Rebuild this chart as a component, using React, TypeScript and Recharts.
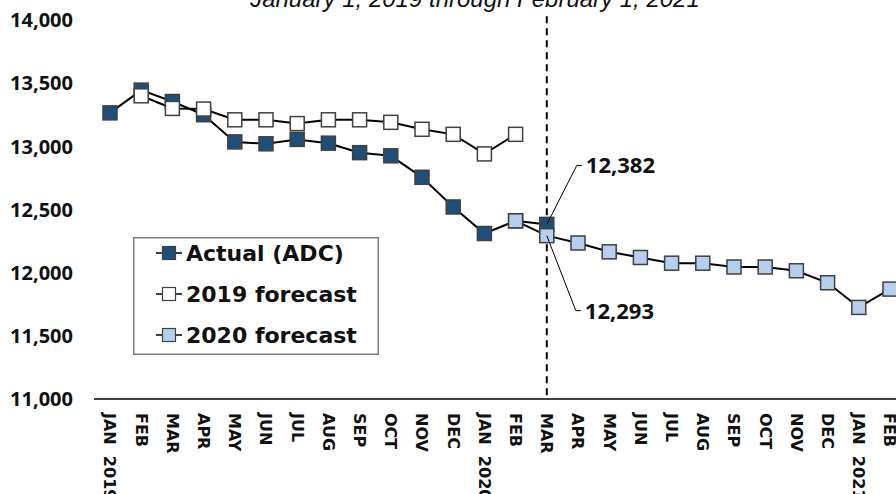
import React from 'react';
import { LineChart, Line, XAxis, YAxis, ReferenceLine, Legend, LabelList } from 'recharts';

const months = [
  '2019-01', '2019-02', '2019-03', '2019-04', '2019-05', '2019-06', '2019-07', '2019-08', '2019-09',
  '2019-10', '2019-11', '2019-12', '2020-01', '2020-02', '2020-03', '2020-04', '2020-05', '2020-06',
  '2020-07', '2020-08', '2020-09', '2020-10', '2020-11', '2020-12', '2021-01', '2021-02',
];
const tickLabels = [
  'JAN  2019', 'FEB', 'MAR', 'APR', 'MAY', 'JUN', 'JUL', 'AUG', 'SEP', 'OCT', 'NOV', 'DEC',
  'JAN  2020', 'FEB', 'MAR', 'APR', 'MAY', 'JUN', 'JUL', 'AUG', 'SEP', 'OCT', 'NOV', 'DEC',
  'JAN  2021', 'FEB',
];
const actual = [
  13265, 13445, 13355, 13250, 13035, 13020, 13055, 13025, 12950, 12925, 12755, 12520, 12310,
  12410, 12382, null, null, null, null, null, null, null, null, null, null, null,
];
const forecast2019 = [
  null, 13400, 13300, 13295, 13210, 13210, 13180, 13210, 13210, 13190, 13135, 13095, 12940,
  13095, null, null, null, null, null, null, null, null, null, null, null, null,
];
const forecast2020 = [
  null, null, null, null, null, null, null, null, null, null, null, null, null,
  12410, 12293, 12235, 12165, 12120, 12075, 12075, 12045, 12045, 12015, 11920, 11725, 11870,
];
const yTicks = [11000, 11500, 12000, 12500, 13000, 13500, 14000];
const cutoverMonth = '2020-03';

const DARK = '#1F4E79';
const LIGHT = '#B7CFEE';
const LABEL_FONT = "'Open Sans', 'Liberation Sans', sans-serif";

const data = months.map((m, i) => ({
  month: m,
  actual: actual[i],
  f2019: forecast2019[i],
  f2020: forecast2020[i],
}));

const squareDot = (fill: string) => (props: any) => {
  const { cx, cy, value, index } = props;
  if (value == null || cx == null || cy == null) return <g key={index} />;
  return (
    <rect key={index} x={cx - 7} y={cy - 7} width={14} height={14} fill={fill} stroke="#404040" strokeWidth={1.5} />
  );
};

const MonthTick = (props: any) => {
  const { x, y, index } = props;
  return (
    <g transform={`translate(${x},${y})`}>
      <text
        transform="rotate(90)"
        x={14}
        y={0}
        dy="0.35em"
        textAnchor="start"
        fontFamily="DejaVu Sans"
        fontWeight="bold"
        fontSize={16}
        fill="#111"
        style={{ whiteSpace: 'pre' }}
      >
        {tickLabels[index]}
      </text>
    </g>
  );
};

const YTick = (props: any) => {
  const { x, y, payload } = props;
  return (
    <text x={x} y={y} dy="0.36em" textAnchor="end" fontFamily={LABEL_FONT} fontWeight={700} fontSize={20} fill="#111">
      {Number(payload.value).toLocaleString('en-US')}
    </text>
  );
};

const callout = (dy: number, dx: number) => (props: any) => {
  const { index, value } = props;
  const x = props.x ?? props.viewBox?.x;
  const y = props.y ?? props.viewBox?.y;
  if (months[index] !== cutoverMonth || value == null) return null;
  const ty = y + dy;
  return (
    <g>
      <polyline points={`${x},${y} ${x + dx},${ty} ${x + dx + 5},${ty}`} fill="none" stroke="#000" strokeWidth={1} />
      <text x={x + dx + 9} y={ty} dy="0.36em" fontFamily={LABEL_FONT} fontWeight={700} fontSize={22} fill="#111">
        {value.toLocaleString('en-US')}
      </text>
    </g>
  );
};

const legendRows = [
  { name: 'Actual (ADC)', fill: DARK },
  { name: '2019 forecast', fill: '#fff' },
  { name: '2020 forecast', fill: LIGHT },
];

const LegendBox = () => (
  <svg width={246} height={118} style={{ display: 'block' }}>
    <rect x={0.75} y={0.75} width={244.5} height={116.5} fill="#fff" stroke="#7f7f7f" strokeWidth={1.5} />
    {legendRows.map((r, i) => {
      const cy = 16 + i * 41;
      return (
        <g key={r.name}>
          <line x1={23} x2={49} y1={cy} y2={cy} stroke="#000" strokeWidth={1.5} />
          <rect x={29.5} y={cy - 6.5} width={13} height={13} fill={r.fill} stroke="#404040" strokeWidth={1.2} />
          <text x={53} y={cy} dy="0.36em" fontFamily="DejaVu Sans" fontWeight="bold" fontSize={22} fill="#111">
            {r.name}
          </text>
        </g>
      );
    })}
  </svg>
);

export default function App() {
  return (
    <div style={{ position: 'absolute', left: 0, top: 0, width: 896, height: 494, overflow: 'hidden', background: '#fff' }}>
      <LineChart width={906} height={494} data={data} margin={{ top: 20, right: 0, left: 0, bottom: 0 }}>
        <XAxis
          dataKey="month"
          height={95}
          interval={0}
          padding={{ left: 16, right: 16 }}
          axisLine={{ stroke: '#000', strokeWidth: 1.5 }}
          tickLine={false}
          tickSize={0}
          tickMargin={0}
          tick={<MonthTick />}
        />
        <YAxis
          domain={[11000, 14000]}
          ticks={yTicks}
          width={94}
          axisLine={false}
          tickLine={false}
          tickSize={0}
          tickMargin={21}
          tick={<YTick />}
        />
        <Legend
          layout="vertical"
          align="center"
          verticalAlign="middle"
          wrapperStyle={{ left: 133, top: 237, width: 246, height: 118 }}
          content={() => <LegendBox />}
        />
        <Line
          dataKey="actual"
          stroke="#000"
          strokeWidth={2}
          dot={squareDot(DARK)}
          activeDot={false}
          isAnimationActive={false}
        >
          <LabelList dataKey="actual" content={callout(-59, 30)} />
        </Line>
        <Line
          dataKey="f2019"
          stroke="#000"
          strokeWidth={2}
          dot={squareDot('#fff')}
          activeDot={false}
          isAnimationActive={false}
        />
        <Line
          dataKey="f2020"
          stroke="#000"
          strokeWidth={2}
          dot={squareDot(LIGHT)}
          activeDot={false}
          isAnimationActive={false}
        >
          <LabelList dataKey="f2020" content={callout(75, 29)} />
        </Line>
        <ReferenceLine
          segment={[{ x: cutoverMonth, y: 14030 }, { x: cutoverMonth, y: 11000 }]}
          ifOverflow="visible"
          stroke="#000"
          strokeWidth={2}
          strokeDasharray="7 5"
        />
      </LineChart>
      <svg width={896} height={30} style={{ position: 'absolute', left: 0, top: 0, pointerEvents: 'none' }}>
        <text x={475} y={7} textAnchor="middle" fontFamily="Liberation Sans" fontStyle="italic" fontSize={24} fill="#111">
          January 1, 2019 through February 1, 2021
        </text>
      </svg>
    </div>
  );
}
